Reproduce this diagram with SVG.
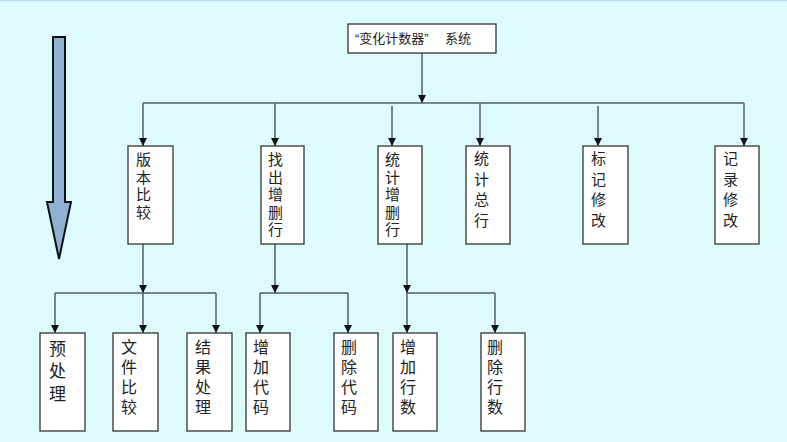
<svg xmlns="http://www.w3.org/2000/svg" width="787" height="442" viewBox="0 0 787 442">
<defs>
<marker id="ah" markerUnits="userSpaceOnUse" markerWidth="9" markerHeight="8" refX="8" refY="4" orient="auto" viewBox="0 0 9 8">
<path d="M0,0 L8,4 L0,8 Z" fill="#111"/>
</marker>
<style>
.bg{fill:#ddfbfd}
.box{fill:#fff;stroke:#333;stroke-width:1.3}
.t{font-family:"Liberation Sans","Noto Sans CJK SC",sans-serif;fill:#222}
.t1{font-size:15px}
.t2{font-size:16px}
.t3{font-size:17px}
.c{stroke:#555e62;stroke-width:1.5;fill:none}
.a{marker-end:url(#ah)}
</style>
</defs>
<rect class="bg" x="0" y="0" width="787" height="442"/>
<rect x="0" y="0" width="787" height="1.2" fill="#b9dcef"/>
<g id="bigarrow">
<polygon points="53,37 65,37 65,202 71,202 59,259 47,202 53,202" fill="#90b0d2" stroke="#111" stroke-width="2"/>
</g>
<g id="connectors">
<line class="c a" x1="422" y1="53" x2="422" y2="103"/>
<line class="c" x1="143" y1="103" x2="744" y2="103"/>
<line class="c a" x1="143" y1="103" x2="143" y2="146"/>
<line class="c a" x1="275" y1="103" x2="275" y2="146"/>
<line class="c a" x1="392" y1="106" x2="392" y2="146"/>
<line class="c a" x1="480" y1="103" x2="480" y2="146"/>
<line class="c a" x1="598" y1="106" x2="598" y2="146"/>
<line class="c a" x1="744" y1="103" x2="744" y2="146"/>
<line class="c a" x1="143" y1="244" x2="143" y2="293"/>
<line class="c" x1="55" y1="293" x2="216" y2="293"/>
<line class="c a" x1="55" y1="293" x2="55" y2="333"/>
<line class="c a" x1="143" y1="293" x2="143" y2="333"/>
<line class="c a" x1="216" y1="293" x2="216" y2="333"/>
<line class="c a" x1="275" y1="244" x2="275" y2="293"/>
<line class="c" x1="260" y1="293" x2="348" y2="293"/>
<line class="c a" x1="260" y1="293" x2="260" y2="333"/>
<line class="c a" x1="348" y1="293" x2="348" y2="333"/>
<line class="c a" x1="407" y1="244" x2="407" y2="293"/>
<line class="c" x1="407" y1="293" x2="495" y2="293"/>
<line class="c a" x1="407" y1="293" x2="407" y2="333"/>
<line class="c a" x1="495" y1="293" x2="495" y2="333"/>
</g>
<g id="root">
<rect class="box" x="348" y="24" width="148" height="29"/>
<text class="t" x="355" y="43" font-size="13">“变化计数器”<tspan x="445">系统</tspan></text>
</g>
<g id="n1">
<rect class="box" x="128" y="146" width="45" height="98"/>
<text class="t t1" x="136" y="165">版</text><text class="t t1" x="136" y="182.5">本</text><text class="t t1" x="136" y="200">比</text><text class="t t1" x="136" y="217.5">较</text>
</g>
<g id="n2">
<rect class="box" x="261" y="146" width="43" height="98"/>
<text class="t t1" x="268" y="165">找</text><text class="t t1" x="268" y="182.5">出</text><text class="t t1" x="268" y="200">增</text><text class="t t1" x="268" y="217.5">删</text><text class="t t1" x="268" y="235">行</text>
</g>
<g id="n3">
<rect class="box" x="378" y="146" width="44" height="98"/>
<text class="t t1" x="385" y="165">统</text><text class="t t1" x="385" y="182.5">计</text><text class="t t1" x="385" y="200">增</text><text class="t t1" x="385" y="217.5">删</text><text class="t t1" x="385" y="235">行</text>
</g>
<g id="n4">
<rect class="box" x="466" y="146" width="44" height="98"/>
<text class="t t1" x="474" y="164">统</text><text class="t t1" x="474" y="184.5">计</text><text class="t t1" x="474" y="205">总</text><text class="t t1" x="474" y="225.5">行</text>
</g>
<g id="n5">
<rect class="box" x="583" y="146" width="45" height="98"/>
<text class="t t1" x="591" y="164">标</text><text class="t t1" x="591" y="184.5">记</text><text class="t t1" x="591" y="205">修</text><text class="t t1" x="591" y="225.5">改</text>
</g>
<g id="n6">
<rect class="box" x="715" y="146" width="44" height="98"/>
<text class="t t1" x="723" y="164">记</text><text class="t t1" x="723" y="184.5">录</text><text class="t t1" x="723" y="205">修</text><text class="t t1" x="723" y="225.5">改</text>
</g>
<g id="m1">
<rect class="box" x="40" y="333" width="45" height="98"/>
<text class="t t3" x="49" y="354.5">预</text><text class="t t3" x="49" y="377">处</text><text class="t t3" x="49" y="399.5">理</text>
</g>
<g id="m2">
<rect class="box" x="113" y="333" width="45" height="98"/>
<text class="t t2" x="121" y="353">文</text><text class="t t2" x="121" y="373">件</text><text class="t t2" x="121" y="393">比</text><text class="t t2" x="121" y="412.5">较</text>
</g>
<g id="m3">
<rect class="box" x="187" y="333" width="45" height="98"/>
<text class="t t2" x="195" y="353">结</text><text class="t t2" x="195" y="373">果</text><text class="t t2" x="195" y="393">处</text><text class="t t2" x="195" y="412.5">理</text>
</g>
<g id="m4">
<rect class="box" x="246" y="333" width="44" height="98"/>
<text class="t t2" x="253" y="353">增</text><text class="t t2" x="253" y="373">加</text><text class="t t2" x="253" y="393">代</text><text class="t t2" x="253" y="412.5">码</text>
</g>
<g id="m5">
<rect class="box" x="334" y="333" width="44" height="98"/>
<text class="t t2" x="341" y="353">删</text><text class="t t2" x="341" y="373">除</text><text class="t t2" x="341" y="393">代</text><text class="t t2" x="341" y="412.5">码</text>
</g>
<g id="m6">
<rect class="box" x="393" y="333" width="44" height="98"/>
<text class="t t2" x="400" y="353">增</text><text class="t t2" x="400" y="373">加</text><text class="t t2" x="400" y="393">行</text><text class="t t2" x="400" y="412.5">数</text>
</g>
<g id="m7">
<rect class="box" x="481" y="333" width="44" height="98"/>
<text class="t t2" x="487" y="353">删</text><text class="t t2" x="487" y="373">除</text><text class="t t2" x="487" y="393">行</text><text class="t t2" x="487" y="412.5">数</text>
</g>
</svg>
